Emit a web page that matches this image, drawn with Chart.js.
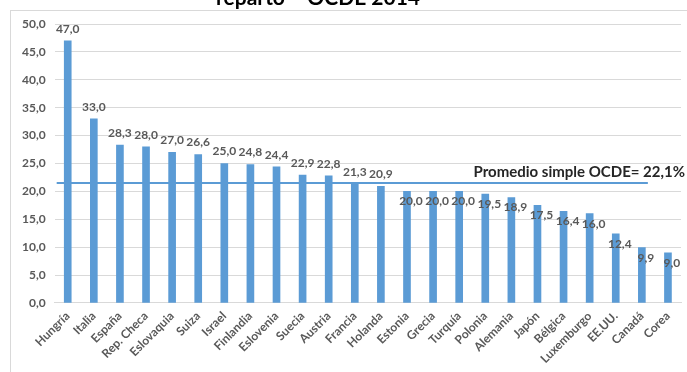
<!DOCTYPE html>
<html>
<head>
<meta charset="utf-8">
<script src="https://cdn.jsdelivr.net/npm/chart.js@4.4.1/dist/chart.umd.min.js"></script>
<style>
  html, body { margin: 0; padding: 0; background: #fff; }
  #wrap { width: 687px; height: 372px; position: relative; }
</style>
</head>
<body>
<div id="wrap"><canvas id="ocde__graph"></canvas></div>
<script>
const countries = ["Hungría", "Italia", "España", "Rep. Checa", "Eslovaquia", "Suiza", "Israel", "Finlandia", "Eslovenia", "Suecia", "Austria", "Francia", "Holanda", "Estonia", "Grecia", "Turquía", "Polonia", "Alemania", "Japón", "Bélgica", "Luxemburgo", "EE.UU.", "Canadá", "Corea"];
const rates = [47.0, 33.0, 28.3, 28.0, 27.0, 26.6, 25.0, 24.8, 24.4, 22.9, 22.8, 21.3, 20.9, 20.0, 20.0, 20.0, 19.5, 18.9, 17.5, 16.4, 16.0, 12.4, 9.9, 9.0];
const averageLine = 21.5;
const averageText = "Promedio simple OCDE= 22,1%";
const titleText = "reparto – OCDE 2014";

const fmt = (v) => v.toFixed(1).replace(".", ",");

const extras = {
  id: "extras",
  beforeDraw(chart) {
    const ctx = chart.ctx;
    ctx.save();
    ctx.strokeStyle = "#d9d9d9";
    ctx.lineWidth = 1;
    ctx.strokeRect(10.5, 10.5, 700, 400);
    ctx.restore();
  },
  afterDatasetsDraw(chart) {
    const ctx = chart.ctx;
    const meta = chart.getDatasetMeta(0);
    const y = chart.scales.y;
    ctx.save();
    // value labels (the ones under the average sit on the bar top, like in the original)
    ctx.font = "bold 12px Lato";
    ctx.fillStyle = "#595959";
    ctx.textAlign = "center";
    ctx.textBaseline = "middle";
    meta.data.forEach((bar, i) => {
      if (rates[i] < averageLine - 1) {
        ctx.fillText(fmt(rates[i]), bar.x + 4, bar.y + 10);
      } else {
        ctx.fillText(fmt(rates[i]), bar.x, bar.y - 12);
      }
    });
    // average line
    const ay = y.getPixelForValue(averageLine);
    const lastBar = meta.data[rates.length - 2];
    ctx.strokeStyle = "#5b9bd5";
    ctx.lineWidth = 2;
    ctx.beginPath();
    ctx.moveTo(chart.chartArea.left + 2, ay);
    ctx.lineTo(lastBar.x + 6, ay);
    ctx.stroke();
    ctx.font = "bold 15px Lato";
    ctx.fillStyle = "#262626";
    ctx.textAlign = "right";
    ctx.textBaseline = "bottom";
    ctx.fillText(averageText, chart.chartArea.right + 4, ay - 3);
    // clipped title
    ctx.font = "bold 21px Lato";
    ctx.fillStyle = "#000";
    ctx.textAlign = "center";
    ctx.textBaseline = "alphabetic";
    ctx.fillText(titleText, 318, 5);
    ctx.restore();
  }
};

new Chart(document.getElementById("ocde__graph").getContext("2d"), {
  type: "bar",
  data: {
    labels: countries,
    datasets: [
      {
        label: "Tasa",
        data: rates,
        backgroundColor: "#5b9bd5",
        barThickness: 7,
      },
    ],
  },
  options: {
    responsive: true,
    maintainAspectRatio: false,
    animation: false,
    layout: { padding: { top: 24, left: 13, right: 6, bottom: 0 } },
    plugins: {
      legend: { display: false },
      tooltip: { enabled: false },
    },
    scales: {
      x: {
        grid: { display: false, drawTicks: false },
        border: { color: "#d9d9d9" },
        ticks: {
          color: "#595959",
          font: { family: "Lato", size: 12, weight: "bold" },
          minRotation: 45,
          maxRotation: 45,
          padding: 6,
          autoSkip: false,
        },
      },
      y: {
        min: 0,
        max: 50,
        grid: { color: "#d9d9d9", drawTicks: false },
        border: { display: false },
        ticks: {
          stepSize: 5,
          color: "#595959",
          padding: 9,
          font: { family: "Lato", size: 12, weight: "bold" },
          callback: (v) => fmt(v),
        },
      },
    },
  },
  plugins: [extras],
});
</script>
</body>
</html>
